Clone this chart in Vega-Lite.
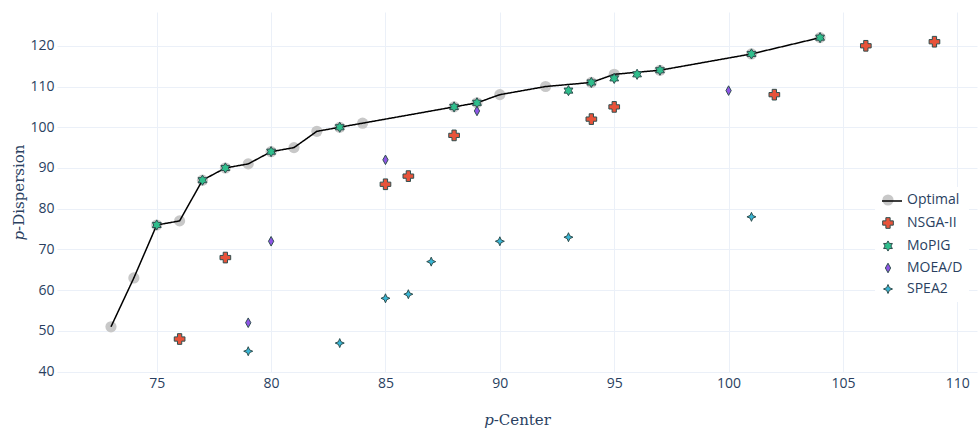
{
  "$schema": "https://vega.github.io/schema/vega-lite/v6.json",
  "width": 920,
  "height": 360,
  "autosize": {"type": "none"},
  "padding": {"left": 57, "top": 12, "right": 2, "bottom": 58},
  "background": "white",
  "config": {
    "view": {"stroke": null},
    "axis": {
      "grid": true,
      "gridColor": "#EBF0F8",
      "gridWidth": 1,
      "domain": false,
      "ticks": false,
      "tickSize": 0,
      "labelFont": "Open Sans",
      "labelFontSize": 14,
      "labelColor": "#2a3f5f",
      "titleFont": "DejaVu Serif",
      "titleFontSize": 15,
      "titleFontWeight": "normal",
      "titleColor": "#2a3f5f"
    }
  },
  "data": {
    "values": [
      {"series": "Optimal", "x": 73, "y": 51},
      {"series": "Optimal", "x": 74, "y": 63},
      {"series": "Optimal", "x": 75, "y": 76},
      {"series": "Optimal", "x": 76, "y": 77},
      {"series": "Optimal", "x": 77, "y": 87},
      {"series": "Optimal", "x": 78, "y": 90},
      {"series": "Optimal", "x": 79, "y": 91},
      {"series": "Optimal", "x": 80, "y": 94},
      {"series": "Optimal", "x": 81, "y": 95},
      {"series": "Optimal", "x": 82, "y": 99},
      {"series": "Optimal", "x": 83, "y": 100},
      {"series": "Optimal", "x": 84, "y": 101},
      {"series": "Optimal", "x": 88, "y": 105},
      {"series": "Optimal", "x": 89, "y": 106},
      {"series": "Optimal", "x": 90, "y": 108},
      {"series": "Optimal", "x": 92, "y": 110},
      {"series": "Optimal", "x": 94, "y": 111},
      {"series": "Optimal", "x": 95, "y": 113},
      {"series": "Optimal", "x": 97, "y": 114},
      {"series": "Optimal", "x": 101, "y": 118},
      {"series": "Optimal", "x": 104, "y": 122},
      {"series": "NSGA-II", "x": 76, "y": 48},
      {"series": "NSGA-II", "x": 78, "y": 68},
      {"series": "NSGA-II", "x": 85, "y": 86},
      {"series": "NSGA-II", "x": 86, "y": 88},
      {"series": "NSGA-II", "x": 88, "y": 98},
      {"series": "NSGA-II", "x": 94, "y": 102},
      {"series": "NSGA-II", "x": 95, "y": 105},
      {"series": "NSGA-II", "x": 102, "y": 108},
      {"series": "NSGA-II", "x": 106, "y": 120},
      {"series": "NSGA-II", "x": 109, "y": 121},
      {"series": "MoPIG", "x": 75, "y": 76},
      {"series": "MoPIG", "x": 77, "y": 87},
      {"series": "MoPIG", "x": 78, "y": 90},
      {"series": "MoPIG", "x": 80, "y": 94},
      {"series": "MoPIG", "x": 83, "y": 100},
      {"series": "MoPIG", "x": 88, "y": 105},
      {"series": "MoPIG", "x": 89, "y": 106},
      {"series": "MoPIG", "x": 93, "y": 109},
      {"series": "MoPIG", "x": 94, "y": 111},
      {"series": "MoPIG", "x": 95, "y": 112},
      {"series": "MoPIG", "x": 96, "y": 113},
      {"series": "MoPIG", "x": 97, "y": 114},
      {"series": "MoPIG", "x": 101, "y": 118},
      {"series": "MoPIG", "x": 104, "y": 122},
      {"series": "MOEA/D", "x": 79, "y": 52},
      {"series": "MOEA/D", "x": 80, "y": 72},
      {"series": "MOEA/D", "x": 85, "y": 92},
      {"series": "MOEA/D", "x": 89, "y": 104},
      {"series": "MOEA/D", "x": 100, "y": 109},
      {"series": "SPEA2", "x": 79, "y": 45},
      {"series": "SPEA2", "x": 83, "y": 47},
      {"series": "SPEA2", "x": 85, "y": 58},
      {"series": "SPEA2", "x": 86, "y": 59},
      {"series": "SPEA2", "x": 87, "y": 67},
      {"series": "SPEA2", "x": 90, "y": 72},
      {"series": "SPEA2", "x": 93, "y": 73},
      {"series": "SPEA2", "x": 101, "y": 78}
    ]
  },
  "encoding": {
    "x": {
      "field": "x",
      "type": "quantitative",
      "scale": {"domain": [70.64, 110.86], "nice": false, "zero": false},
      "axis": {
        "values": [75, 80, 85, 90, 95, 100, 105, 110],
        "title": "𝑝-Center",
        "labelPadding": 4,
        "titleY": 47,
        "titleBaseline": "middle"
      }
    },
    "y": {
      "field": "y",
      "type": "quantitative",
      "scale": {"domain": [39.9, 128.3], "nice": false, "zero": false},
      "axis": {
        "values": [40, 50, 60, 70, 80, 90, 100, 110, 120],
        "title": "𝑝-Dispersion",
        "labelPadding": 3,
        "titleX": -39,
        "titleBaseline": "middle"
      }
    }
  },
  "layer": [
    {
      "transform": [{"filter": "datum.series === 'Optimal'"}],
      "mark": {"type": "point", "filled": true, "opacity": 1},
      "encoding": {
        "color": {
          "field": "series",
          "type": "nominal",
          "scale": {
            "domain": ["Optimal", "NSGA-II", "MoPIG", "MOEA/D", "SPEA2"],
            "range": ["#c8c8c8", "#E8533A", "#2FBE8C", "#8E55E6", "#38B6D6"]
          },
          "legend": {
            "orient": "none",
            "legendX": 818,
            "legendY": 175,
            "zindex": 1,
            "title": null,
            "fillColor": "white",
            "padding": 6,
            "labelFont": "Open Sans",
            "labelFontSize": 14,
            "labelColor": "#2a3f5f",
            "rowPadding": 7,
            "labelOffset": 12,
            "symbolOpacity": 1,
            "encode": {
              "symbols": {
                "update": {
                  "stroke": {"signal": "datum.value === 'Optimal' ? 'transparent' : '#2F4F4F'"},
                  "strokeWidth": {"value": 1}
                }
              }
            }
          }
        },
        "shape": {
          "field": "series",
          "type": "nominal",
          "scale": {
            "domain": ["Optimal", "NSGA-II", "MoPIG", "MOEA/D", "SPEA2"],
            "range": [
              "circle",
              "cross",
              "M-0.576,0L-0.864,-0.5L-0.288,-0.5L0,-1L0.288,-0.5L0.864,-0.5L0.576,0L0.864,0.5L0.288,0.5L0,1L-0.288,0.5L-0.864,0.5Z",
              "M0,-1L0.55,0L0,1L-0.55,0Z",
              "M0,-1L0.3,-0.3L1,0L0.3,0.3L0,1L-0.3,0.3L-1,0L-0.3,-0.3Z"
            ]
          }
        },
        "size": {
          "field": "series",
          "type": "nominal",
          "scale": {
            "domain": ["Optimal", "NSGA-II", "MoPIG", "MOEA/D", "SPEA2"],
            "range": [125, 81, 121, 121, 56]
          }
        }
      }
    },
    {
      "transform": [{"filter": "datum.series === 'Optimal'"}],
      "mark": {"type": "line", "color": "black", "strokeWidth": 1.5},
      "encoding": {
        "strokeDash": {
          "field": "series",
          "type": "nominal",
          "scale": {"domain": ["Optimal"], "range": [[1, 0]]},
          "legend": {
            "orient": "none",
            "legendX": 824,
            "legendY": 178,
            "zindex": 2,
            "title": null,
            "padding": 0,
            "symbolType": "stroke",
            "symbolSize": 400,
            "symbolStrokeColor": "black",
            "symbolStrokeWidth": 1.5,
            "labelExpr": "''",
            "labelFontSize": 14
          }
        }
      }
    },
    {
      "transform": [{"filter": "datum.series !== 'Optimal'"}],
      "mark": {"type": "point", "filled": true, "opacity": 1, "stroke": "#2F4F4F", "strokeWidth": 1},
      "encoding": {
        "color": {"field": "series", "type": "nominal"},
        "shape": {"field": "series", "type": "nominal"},
        "size": {"field": "series", "type": "nominal"}
      }
    }
  ]
}
